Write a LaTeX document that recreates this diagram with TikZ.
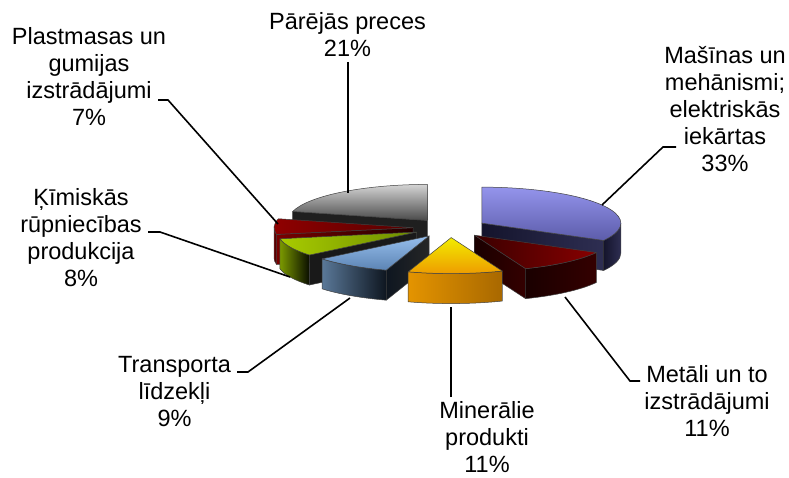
\documentclass[tikz,border=0pt]{standalone}
\usepackage{fontspec}
\setmainfont{Liberation Sans}
\definecolor{blueT1}{HTML}{9494EC}
\definecolor{blueT2}{HTML}{5C5CAA}
\definecolor{blueW1}{HTML}{14142C}
\definecolor{blueW2}{HTML}{2E2E52}
\definecolor{redT1}{HTML}{880000}
\definecolor{redT2}{HTML}{3A0000}
\definecolor{redW1}{HTML}{1A0000}
\definecolor{redW2}{HTML}{340000}
\definecolor{orT1}{HTML}{F2EC00}
\definecolor{orT2}{HTML}{EE9A00}
\definecolor{orW1}{HTML}{E49400}
\definecolor{orW2}{HTML}{A86800}
\definecolor{ltbT1}{HTML}{96BEEC}
\definecolor{ltbT2}{HTML}{5C84B4}
\definecolor{ltbW1}{HTML}{5A7898}
\definecolor{ltbW2}{HTML}{0E1620}
\definecolor{grnT1}{HTML}{A8CC00}
\definecolor{grnT2}{HTML}{6E8C00}
\definecolor{grnW1}{HTML}{7A9800}
\definecolor{grnW2}{HTML}{0A0E00}
\definecolor{prT1}{HTML}{900000}
\definecolor{prT2}{HTML}{560000}
\definecolor{prW1}{HTML}{7A0000}
\definecolor{prW2}{HTML}{200000}
\definecolor{gryT1}{HTML}{D4D4D4}
\definecolor{gryT2}{HTML}{4A4A4A}
\newcommand\setslice[2]{%
  \pgfmathsetmacro\sa{#1}\pgfmathsetmacro\sb{#2}%
  \pgfmathsetmacro\sm{(#1+#2)/2}%
  \pgfmathsetmacro\ox{450+37*cos(\sm)}%
  \pgfmathsetmacro\oy{249+37*0.259*sin(\sm)}}
\newcommand\topface[1]{%
  \path[#1,edge] (\ox,\oy) -- ({\ox+139*cos(\sa)},{\oy+36*sin(\sa)})
    arc[start angle=\sa,end angle=\sb,x radius=139,y radius=36] -- cycle;}
\newcommand\wallface[3]{%
  \path[#3,edge] ({\ox+139*cos(#1)},{\oy+36*sin(#1)})
    arc[start angle=#1,end angle=#2,x radius=139,y radius=36] -- ++(0,-30)
    arc[start angle=#2,end angle=#1,x radius=139,y radius=36] -- cycle;}
\newcommand\radface[2]{%
  \path[#2,edge] (\ox,\oy) -- ({\ox+139*cos(#1)},{\oy+36*sin(#1)}) -- ++(0,-30)
    -- (\ox,{\oy-30}) -- cycle;}
\begin{document}
\begin{tikzpicture}[x=1pt,y=1pt,
  edge/.style={draw=black!75,line width=0.5pt,line join=round},
  leader/.style={draw=black,line width=1.6pt},
  lbl/.style={align=center,anchor=base,inner sep=0pt,font=\fontsize{23.5}{27}\selectfont}]
\useasboundingbox (0,0) rectangle (789,477);
% gray: Pārējās preces
\setslice{90}{165.6}
\radface{165.6}{fill=black!88}
\topface{top color=gryT1,bottom color=gryT2}
% blue: Mašīnas
\setslice{331.2}{450}
\radface{331.2}{left color=blueW1,right color=blueW2}
\wallface{331.2}{360}{left color=blueW1,right color=blueW2}
\topface{top color=blueT1,bottom color=blueT2}
% dark red: Plastmasas
\setslice{165.6}{190.8}
\wallface{180}{190.8}{left color=prW1,right color=prW2}
\radface{190.8}{left color=prW1,right color=prW2}
\topface{left color=prT1,right color=prT2}
% green: Ķīmiskās
\setslice{190.8}{219.6}
\wallface{190.8}{219.6}{left color=grnW1,right color=grnW2}
\radface{219.6}{fill=black!90}
\topface{left color=grnT1,right color=grnT2}
% dark red: Metāli
\setslice{291.6}{331.2}
\radface{291.6}{left color=redW1,right color=redW2}
\wallface{291.6}{331.2}{left color=redW1,right color=redW2}
\topface{right color=redT1,left color=redT2}
% light blue: Transporta
\setslice{219.6}{252}
\wallface{219.6}{252}{left color=ltbW1,right color=ltbW2}
\radface{252}{left color=ltbW2,right color=black!85}
\topface{top color=ltbT1,bottom color=ltbT2}
% orange: Minerālie
\setslice{252}{291.6}
\wallface{252}{291.6}{left color=orW1,right color=orW2}
\topface{top color=orT1,bottom color=orT2}
% labels (base = last line baseline)
\node[lbl] (lpar) at (347.5,420) {Pārējās preces\\21\%};
\node[lbl] (lpla) at (89,351) {Plastmasas un\\gumijas\\izstrādājumi\\7\%};
\node[lbl] (lkim) at (81,191) {Ķīmiskās\\rūpniecības\\produkcija\\8\%};
\node[lbl] (ltra) at (174.5,51) {Transporta\\līdzekļi\\9\%};
\node[lbl] (lmin) at (487,4.5) {Minerālie\\produkti\\11\%};
\node[lbl] (lmet) at (707,41) {Metāli un to\\izstrādājumi\\11\%};
\node[lbl] (lmas) at (725,305) {Mašīnas un\\mehānismi;\\elektriskās\\iekārtas\\33\%};
% leader coordinates
\coordinate (par1) at (348,415); \coordinate (par2) at (348,284);
\coordinate (pla1) at (158,377); \coordinate (pla2) at (168,377); \coordinate (pla3) at (278,253);
\coordinate (kim1) at (148,245); \coordinate (kim2) at (160,245); \coordinate (kim3) at (290,200);
\coordinate (tra1) at (237,105); \coordinate (tra2) at (248,105); \coordinate (tra3) at (350,179);
\coordinate (min1) at (451,80); \coordinate (min2) at (451,170);
\coordinate (met1) at (640,96); \coordinate (met2) at (630,96); \coordinate (met3) at (565,180);
\coordinate (mas1) at (676,330); \coordinate (mas2) at (663,330); \coordinate (mas3) at (602,272);
\draw[leader] (par1) -- (par2);
\draw[leader] (pla1) -- (pla2) -- (pla3);
\draw[leader] (kim1) -- (kim2) -- (kim3);
\draw[leader] (tra1) -- (tra2) -- (tra3);
\draw[leader] (min1) -- (min2);
\draw[leader] (met1) -- (met2) -- (met3);
\draw[leader] (mas1) -- (mas2) -- (mas3);
\end{tikzpicture}
\end{document}
